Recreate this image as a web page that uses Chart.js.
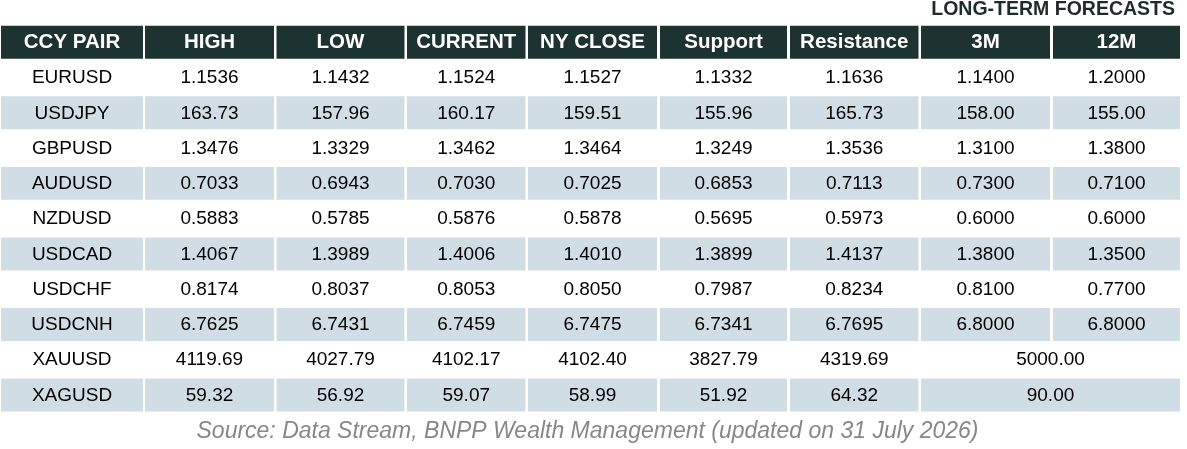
<!DOCTYPE html>
<html>
<head>
<meta charset="utf-8">
<script src="https://cdn.jsdelivr.net/npm/chart.js@4"></script>
<style>
  html, body { margin: 0; padding: 0; background: #fff; }
  canvas { display: block; }
</style>
</head>
<body>
<canvas id="fx" width="1187" height="449"></canvas>
<script>
const headers = ['CCY PAIR', 'HIGH', 'LOW', 'CURRENT', 'NY CLOSE', 'Support', 'Resistance', '3M', '12M'];
const pairs = ['EURUSD', 'USDJPY', 'GBPUSD', 'AUDUSD', 'NZDUSD', 'USDCAD', 'USDCHF', 'USDCNH', 'XAUUSD', 'XAGUSD'];
const digits = [4, 2, 4, 4, 4, 4, 4, 4, 2, 2];
const high = [1.1536, 163.73, 1.3476, 0.7033, 0.5883, 1.4067, 0.8174, 6.7625, 4119.69, 59.32];
const low = [1.1432, 157.96, 1.3329, 0.6943, 0.5785, 1.3989, 0.8037, 6.7431, 4027.79, 56.92];
const current = [1.1524, 160.17, 1.3462, 0.7030, 0.5876, 1.4006, 0.8053, 6.7459, 4102.17, 59.07];
const nyClose = [1.1527, 159.51, 1.3464, 0.7025, 0.5878, 1.4010, 0.8050, 6.7475, 4102.40, 58.99];
const support = [1.1332, 155.96, 1.3249, 0.6853, 0.5695, 1.3899, 0.7987, 6.7341, 3827.79, 51.92];
const resistance = [1.1636, 165.73, 1.3536, 0.7113, 0.5973, 1.4137, 0.8234, 6.7695, 4319.69, 64.32];
// null in 12M = one forecast for both horizons (merged cell)
const fc3m = [1.1400, 158.00, 1.3100, 0.7300, 0.6000, 1.3800, 0.8100, 6.8000, 5000.00, 90.00];
const fc12m = [1.2000, 155.00, 1.3800, 0.7100, 0.6000, 1.3500, 0.7700, 6.8000, null, null];
const titleText = 'LONG-TERM FORECASTS';
const sourceText = 'Source: Data Stream, BNPP Wealth Management (updated on 31 July 2026)';

// layout: left/right pixel edge of each column
const colEdges = [[1, 143], [145, 274], [276.5, 404.5], [407, 525.5], [528, 657],
                  [660, 787], [790, 918.5], [921, 1050], [1053, 1180]];

const HEADER_BG = '#1c3331';
const STRIPE_BG = '#d1dde4';
const FONT = '"Liberation Sans", Arial, sans-serif';

const columns = [pairs, high, low, current, nyClose, support, resistance, fc3m, fc12m];
const rowLabels = [headers[0], ...pairs];

function cellText(col, row) {
  if (row === 0) return headers[col];
  const v = columns[col][row - 1];
  if (v === null) return null;
  return col === 0 ? v : v.toFixed(digits[row - 1]);
}

function cellSpan(col, row) {
  if (row > 0 && col === 8 && fc12m[row - 1] === null) return null;
  if (row > 0 && col === 7 && fc12m[row - 1] === null) return [colEdges[7][0], colEdges[8][1]];
  return colEdges[col];
}

function rowColor(row) {
  if (row === 0) return HEADER_BG;
  return row % 2 === 0 ? STRIPE_BG : '#ffffff';
}

const datasets = headers.map((h, c) => ({
  label: h,
  data: rowLabels.map((_, r) => cellSpan(c, r)),
  backgroundColor: rowLabels.map((_, r) => rowColor(r)),
  borderWidth: 0,
  grouped: false,
  categoryPercentage: 1,
  barPercentage: 0.935,
  clip: false
}));

const cellLabels = {
  id: 'cellLabels',
  afterDatasetsDraw(chart) {
    const ctx = chart.ctx;
    ctx.save();
    ctx.textAlign = 'center';
    ctx.textBaseline = 'middle';
    chart.data.datasets.forEach((ds, c) => {
      chart.getDatasetMeta(c).data.forEach((el, r) => {
        if (ds.data[r] === null) return;
        const txt = cellText(c, r);
        if (txt === null) return;
        const { x, base, y } = el.getProps(['x', 'base', 'y'], true);
        if (r === 0) {
          ctx.font = 'bold 20.5px ' + FONT;
          ctx.fillStyle = '#ffffff';
        } else {
          ctx.font = '19px ' + FONT;
          ctx.fillStyle = '#000000';
        }
        ctx.fillText(txt, (x + base) / 2, y + 0.5);
      });
    });
    ctx.restore();
  }
};

new Chart(document.getElementById('fx'), {
  type: 'bar',
  data: { labels: rowLabels, datasets },
  options: {
    indexAxis: 'y',
    responsive: false,
    animation: false,
    devicePixelRatio: 1,
    layout: { padding: { left: 0, right: 12, top: 0, bottom: 0 } },
    scales: {
      x: { type: 'linear', min: 0, max: 1175, display: false },
      y: { type: 'category', display: false, offset: true }
    },
    plugins: {
      legend: { display: false },
      tooltip: { enabled: false },
      title: {
        display: true,
        text: titleText,
        align: 'end',
        fullSize: false,
        color: '#1f2b2a',
        font: { family: FONT, size: 19.5, weight: 'bold', lineHeight: 1 },
        padding: { top: 0, bottom: 5.2 }
      },
      subtitle: {
        display: true,
        position: 'bottom',
        text: sourceText,
        align: 'center',
        fullSize: false,
        color: '#878787',
        font: { family: FONT, size: 23, style: 'italic', lineHeight: 1 },
        padding: { top: 7.2, bottom: 6.2 }
      }
    }
  },
  plugins: [cellLabels]
});
</script>
</body>
</html>
